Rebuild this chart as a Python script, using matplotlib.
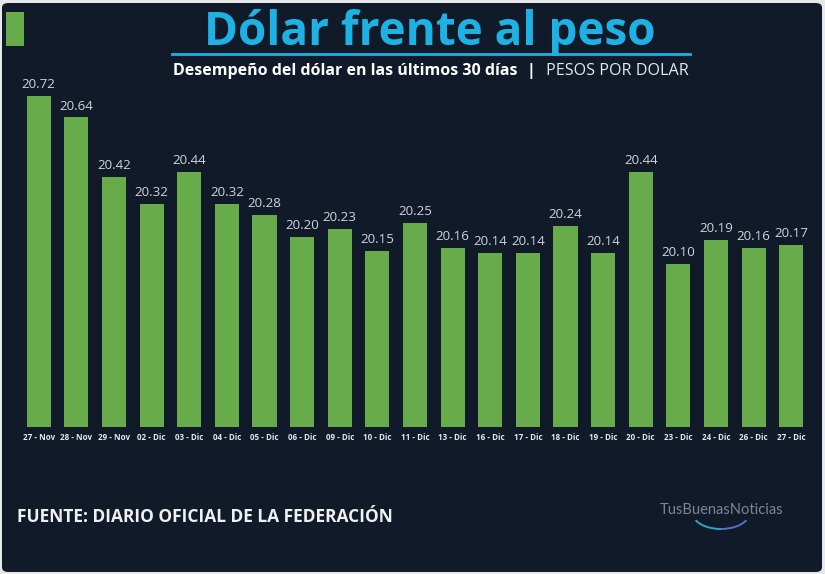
import matplotlib
matplotlib.use("Agg")
import matplotlib.pyplot as plt
from matplotlib.patches import FancyBboxPatch, Rectangle, Arc

# data
fechas = ["27 - Nov", "28 - Nov", "29 - Nov", "02 - Dic", "03 - Dic", "04 - Dic",
          "05 - Dic", "06 - Dic", "09 - Dic", "10 - Dic", "11 - Dic", "13 - Dic",
          "16 - Dic", "17 - Dic", "18 - Dic", "19 - Dic", "20 - Dic", "23 - Dic",
          "24 - Dic", "26 - Dic", "27 - Dic"]
pesos = [20.72, 20.64, 20.42, 20.32, 20.44, 20.32, 20.28, 20.20, 20.23, 20.15,
         20.25, 20.16, 20.14, 20.14, 20.24, 20.14, 20.44, 20.10, 20.19, 20.16,
         20.17]

BG = "#111a29"
GREEN = "#68ab4a"
CYAN = "#1db2e3"
W, H = 825, 574

fig = plt.figure(figsize=(W / 100, H / 100), dpi=100)
fig.patch.set_facecolor("#e6e8ea")
fig.patches.append(FancyBboxPatch((2 / W, 2 / H), 820 / W, 569 / H,
                                  boxstyle="round,pad=0,rounding_size=0.008",
                                  transform=fig.transFigure, fc=BG, ec="none",
                                  zorder=-5))

# axes: x from 20 to 810 px, y from 74 to 427 px (top-down)
ax = fig.add_axes([20 / W, 1 - 427 / H, 790 / W, 353 / H])
ax.set_facecolor("none")
x = list(range(len(pesos)))
ax.bar(x, pesos, width=0.64, color=GREEN, bottom=0)
ax.set_ylim(19.5, 20.8)
ax.set_xlim(-0.5, len(pesos) - 0.5)
for xi, v in zip(x, pesos):
    ax.annotate(f"{v:.2f}", (xi, v), xytext=(0, 3.5), textcoords="offset points",
                ha="center", va="bottom", color="#cfd4db", fontsize=9.6,
                family="Open Sans")
ax.set_yticks([])
ax.set_xticks(x)
ax.set_xticklabels(fechas, fontsize=5.8, color="#e3e6ea", family="Open Sans",
                   fontweight="bold")
ax.tick_params(axis="x", length=0, pad=4)
for s in ax.spines.values():
    s.set_visible(False)

# header
fig.patches.append(Rectangle((6 / W, 1 - 46 / H), 18 / W, 34 / H,
                             transform=fig.transFigure, fc=GREEN, ec="none"))
fig.text(430 / W, 1 - 32 / H, "Dólar frente al peso", ha="center", va="center",
         color=CYAN, fontsize=33, fontweight="bold", family="Open Sans")
fig.add_artist(plt.Line2D([172 / W, 690 / W], [1 - 54 / H, 1 - 54 / H],
                          color=CYAN, lw=2, transform=fig.transFigure))
fig.text(173 / W, 1 - 71 / H, "Desempeño del dólar en las últimos 30 días",
         ha="left", va="center", color="white", fontsize=11.5,
         fontweight="bold", family="Open Sans")
fig.text(531 / W, 1 - 71 / H, "|", ha="center", va="center", color="white",
         fontsize=11.5, fontweight="bold", family="Open Sans")
fig.text(689 / W, 1 - 71 / H, "PESOS POR DOLAR", ha="right", va="center",
         color="#e6e8ea", fontsize=11.6, family="Open Sans")

# footer
fig.text(17 / W, 1 - 517 / H, "FUENTE: DIARIO OFICIAL DE LA FEDERACIÓN",
         ha="left", va="center", color="#eef0f2", fontsize=12.5,
         fontweight="bold", family="Open Sans")
fig.text(722 / W, 1 - 510 / H, "TusBuenasNoticias", ha="center", va="center",
         color="#7d8591", fontsize=10.5, family="Lato")
fig.add_artist(Arc((721 / W, 1 - 512 / H), 58 / W, 34 / H, theta1=205,
                   theta2=270, color="#2aa7c9", lw=1.4,
                   transform=fig.transFigure))
fig.add_artist(Arc((721 / W, 1 - 512 / H), 58 / W, 34 / H, theta1=270,
                   theta2=335, color="#5a6fc0", lw=1.4,
                   transform=fig.transFigure))

fig.savefig("out.png", dpi=100, facecolor=fig.get_facecolor())
